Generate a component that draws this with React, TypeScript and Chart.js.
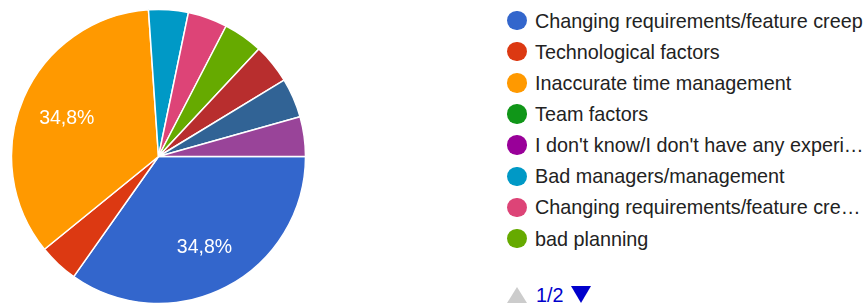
import React, { useEffect, useRef } from "react";
import { Chart, registerables } from "chart.js";

Chart.register(...registerables);

const labels = [
  "Changing requirements/feature creep",
  "Technological factors",
  "Inaccurate time management",
  "Team factors",
  "I don't know/I don't have any experi…",
  "Bad managers/management",
  "Changing requirements/feature cre…",
  "bad planning",
  "Other 1",
  "Other 2",
  "Other 3",
];
const values = [8, 1, 8, 0, 0, 1, 1, 1, 1, 1, 1];
const colors = [
  "#3366cc",
  "#dc3912",
  "#ff9900",
  "#109618",
  "#990099",
  "#0099c6",
  "#dd4477",
  "#66aa00",
  "#b82e2e",
  "#316395",
  "#994499",
];
const legendCount = 8;
const pageText = "1/2";

const FONT = "Arial, 'Liberation Sans', sans-serif";

const pctLabels = {
  id: "pctLabels",
  afterDatasetsDraw(chart: any) {
    const ctx = chart.ctx;
    const meta = chart.getDatasetMeta(0);
    const data = chart.data.datasets[0].data as number[];
    const total = data.reduce((a: number, b: number) => a + b, 0);
    ctx.save();
    ctx.fillStyle = "#ffffff";
    ctx.font = `19.5px ${FONT}`;
    ctx.textAlign = "center";
    ctx.textBaseline = "alphabetic";
    meta.data.forEach((arc: any, i: number) => {
      const v = data[i];
      if (!v || v / total < 0.1) return;
      const p = arc.getProps(["x", "y", "startAngle", "endAngle", "outerRadius"], true);
      const mid = (p.startAngle + p.endAngle) / 2;
      const d = p.outerRadius * 0.68;
      const txt = ((v / total) * 100).toFixed(1).replace(".", ",") + "%";
      ctx.fillText(txt, p.x + Math.cos(mid) * d, p.y + Math.sin(mid) * d + 7.5);
    });
    ctx.restore();
  },
};

export default function App() {
  const ref = useRef<HTMLCanvasElement>(null);
  useEffect(() => {
    const chart = new Chart(ref.current!, {
      type: "pie",
      data: {
        labels,
        datasets: [
          {
            data: values,
            backgroundColor: colors,
            borderColor: "#ffffff",
            borderWidth: 1.5,
          },
        ],
      },
      options: {
        responsive: false,
        animation: false,
        rotation: 90,
        radius: 147,
        layout: { padding: 0 },
        plugins: {
          legend: { display: false },
          tooltip: { enabled: false },
        },
      },
      plugins: [pctLabels],
    });
    return () => chart.destroy();
  }, []);

  const rowY = (i: number) => 20.5 + i * 31.15;

  return (
    <div
      style={{
        position: "fixed",
        left: 0,
        top: 0,
        width: 864,
        height: 305,
        background: "#ffffff",
        fontFamily: FONT,
        overflow: "hidden",
      }}
    >
      <canvas
        ref={ref}
        width={301}
        height={301}
        style={{ position: "absolute", left: 8, top: 6, width: 301, height: 301 }}
      />
      {labels.slice(0, legendCount).map((l, i) => (
        <div key={i}>
          <div
            style={{
              position: "absolute",
              left: 507,
              top: rowY(i) - 9.75,
              width: 19.5,
              height: 19.5,
              borderRadius: "50%",
              background: colors[i],
            }}
          />
          <div
            style={{
              position: "absolute",
              left: 535,
              top: rowY(i) - 12,
              height: 24,
              lineHeight: "24px",
              fontSize: 19.8,
              color: "#222222",
              whiteSpace: "nowrap",
            }}
          >
            {l}
          </div>
        </div>
      ))}
      <div
        style={{
          position: "absolute",
          left: 507,
          top: 287,
          width: 0,
          height: 0,
          borderLeft: "10px solid transparent",
          borderRight: "10px solid transparent",
          borderBottom: "16px solid #cccccc",
        }}
      />
      <div
        style={{
          position: "absolute",
          left: 536,
          top: 283,
          height: 24,
          lineHeight: "24px",
          fontSize: 19.8,
          color: "#0000cc",
          whiteSpace: "nowrap",
        }}
      >
        {pageText}
      </div>
      <div
        style={{
          position: "absolute",
          left: 571,
          top: 286,
          width: 0,
          height: 0,
          borderLeft: "10.5px solid transparent",
          borderRight: "10.5px solid transparent",
          borderTop: "17px solid #0000cc",
        }}
      />
    </div>
  );
}
